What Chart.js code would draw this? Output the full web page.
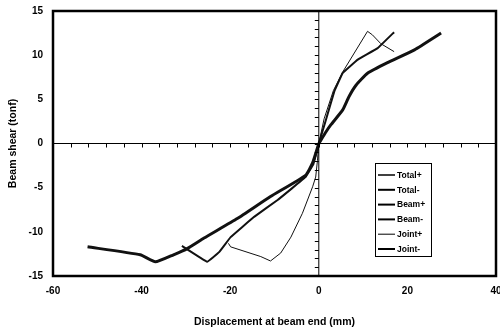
<!DOCTYPE html>
<html>
<head>
<meta charset="utf-8">
<script src="https://cdn.jsdelivr.net/npm/chart.js@4/dist/chart.umd.min.js"></script>
<style>
html, body { margin: 0; padding: 0; background: #fff; }
#wrap { width: 500px; height: 333px; }
</style>
</head>
<body>
<div id="wrap"><canvas id="chart" width="500" height="333"></canvas></div>
<script>
// series names in legend order
const seriesNames = ["Total+", "Total-", "Beam+", "Beam-", "Joint+", "Joint-"];

// displacement (mm) / beam shear (tonf)
const totalPosX = [0, 1.6, 2.7, 5.4, 6.8, 8.4, 11.0, 15.5, 21.6, 27.6];
const totalPosY = [0, 1.3, 2.1, 3.8, 5.3, 6.6, 7.95, 9.15, 10.6, 12.5];
const totalNegX = [0, -1.4, -3.0, -10.9, -18.4, -25.9, -29.7, -32.8, -36.9, -40.3, -52.2];
const totalNegY = [0, -2.2, -3.6, -6.0, -8.5, -10.7, -11.9, -12.6, -13.4, -12.6, -11.7];
const beamPosX = [0, 1.5, 3.5, 5.4, 8.8, 13.3, 17.0];
const beamPosY = [0, 2.5, 5.9, 8.0, 9.5, 10.8, 12.6];
const beamNegX = [0, -1.2, -3.0, -9.3, -14.6, -19.9, -22.5, -25.2, -30.9];
const beamNegY = [0, -2.3, -3.8, -6.4, -8.3, -10.6, -12.3, -13.4, -11.6];
const jointPosX = [0, 1.2, 3.3, 5.4, 11.0, 12.1, 14.0, 17.0];
const jointPosY = [0, 2.8, 6.0, 8.1, 12.7, 12.3, 11.3, 10.4];
const jointNegX = [0, -0.3, -0.7, -1.4, -3.7, -6.3, -8.6, -10.9, -13.1, -19.9, -20.4];
const jointNegY = [0, -1.9, -3.8, -4.9, -7.9, -10.6, -12.4, -13.3, -12.8, -11.7, -11.3];

const xTicks = [-60, -40, -20, 0, 20, 40];
const yTicks = [-15, -10, -5, 0, 5, 10, 15];

const seriesX = [totalPosX, totalNegX, beamPosX, beamNegX, jointPosX, jointNegX];
const seriesY = [totalPosY, totalNegY, beamPosY, beamNegY, jointPosY, jointNegY];
const lineWidths = [3, 3, 2, 2, 1, 1];
const legendWidths = [1.5, 2, 2, 2, 1, 2];
const tensions = [0.15, 0.15, 0.05, 0.05, 0, 0];

function zip(xs, ys) {
  return xs.map((x, i) => ({ x: x, y: ys[i] }));
}

const datasets = seriesNames.map((name, i) => ({
  label: name,
  data: zip(seriesX[i], seriesY[i]),
  showLine: true,
  borderColor: "#111",
  backgroundColor: "#111",
  borderWidth: lineWidths[i],
  pointRadius: 0,
  tension: tensions[i]
}));

const FONT = "'Liberation Sans', Arial, sans-serif";

// frame, zero lines with their small ticks, legend box
const framePlugin = {
  id: "frame",
  afterDatasetsDraw(chart) {
    const ctx = chart.ctx;
    const a = chart.chartArea;
    const sx = chart.scales.x;
    const sy = chart.scales.y;
    const x0 = sx.getPixelForValue(0);
    const y0 = sy.getPixelForValue(0);
    ctx.save();
    ctx.strokeStyle = "#000";
    ctx.lineWidth = 1;
    ctx.beginPath();
    ctx.moveTo(a.left, y0); ctx.lineTo(a.right, y0);
    ctx.moveTo(x0, a.top); ctx.lineTo(x0, a.bottom);
    for (let v = -60; v <= 40; v += 4) {
      const px = Math.round(sx.getPixelForValue(v)) + 0.5;
      ctx.moveTo(px, y0); ctx.lineTo(px, y0 + 4);
    }
    for (let v = -15; v <= 15; v += 1) {
      const py = Math.round(sy.getPixelForValue(v)) + 0.5;
      ctx.moveTo(x0 - 4, py); ctx.lineTo(x0, py);
    }
    ctx.stroke();

    ctx.lineWidth = 2.5;
    ctx.strokeRect(a.left, a.top, a.right - a.left, a.bottom - a.top);

    // legend
    const lx = 375, ly = 163, lw = 56, lh = 93;
    ctx.fillStyle = "#fff";
    ctx.fillRect(lx, ly, lw, lh);
    ctx.lineWidth = 1;
    ctx.strokeRect(lx + 0.5, ly + 0.5, lw, lh);
    ctx.font = "bold 8.5px " + FONT;
    ctx.textBaseline = "middle";
    ctx.fillStyle = "#000";
    chart.data.datasets.forEach((ds, i) => {
      const yy = ly + 12 + i * 14.8;
      ctx.lineWidth = legendWidths[i];
      ctx.beginPath();
      ctx.moveTo(lx + 3, yy); ctx.lineTo(lx + 20, yy);
      ctx.stroke();
      ctx.fillText(ds.label, lx + 22, yy + 0.5);
    });
    ctx.restore();
  }
};

new Chart(document.getElementById("chart"), {
  type: "scatter",
  data: { datasets: datasets },
  options: {
    responsive: false,
    animation: false,
    devicePixelRatio: 1,
    layout: { padding: { top: 11, right: 4, left: 0, bottom: 0 } },
    plugins: { legend: { display: false }, tooltip: { enabled: false } },
    scales: {
      x: {
        type: "linear",
        min: -60, max: 40,
        afterBuildTicks: s => { s.ticks = xTicks.map(v => ({ value: v })); },
        afterFit: s => { s.height = 57; s.paddingLeft = 0; s.paddingRight = 0; },
        grid: { display: false, drawTicks: false },
        border: { display: false },
        ticks: { color: "#000", padding: 9, maxRotation: 0, font: { family: FONT, size: 10, weight: "bold" } },
        title: {
          display: true,
          text: "Displacement at beam end (mm)",
          color: "#000",
          padding: { top: 0, bottom: 5 },
          font: { family: FONT, size: 10.5, weight: "bold" }
        }
      },
      y: {
        type: "linear",
        min: -15, max: 15,
        afterBuildTicks: s => { s.ticks = yTicks.map(v => ({ value: v })); },
        afterFit: s => { s.width = 53; s.paddingTop = 0; s.paddingBottom = 0; },
        grid: { display: false, drawTicks: false },
        border: { display: false },
        ticks: { color: "#000", padding: 10, font: { family: FONT, size: 10, weight: "bold" } },
        title: {
          display: true,
          text: "Beam shear (tonf)",
          color: "#000",
          padding: { top: 7, bottom: 0 },
          font: { family: FONT, size: 10.5, weight: "bold" }
        }
      }
    }
  },
  plugins: [framePlugin]
});
</script>
</body>
</html>
